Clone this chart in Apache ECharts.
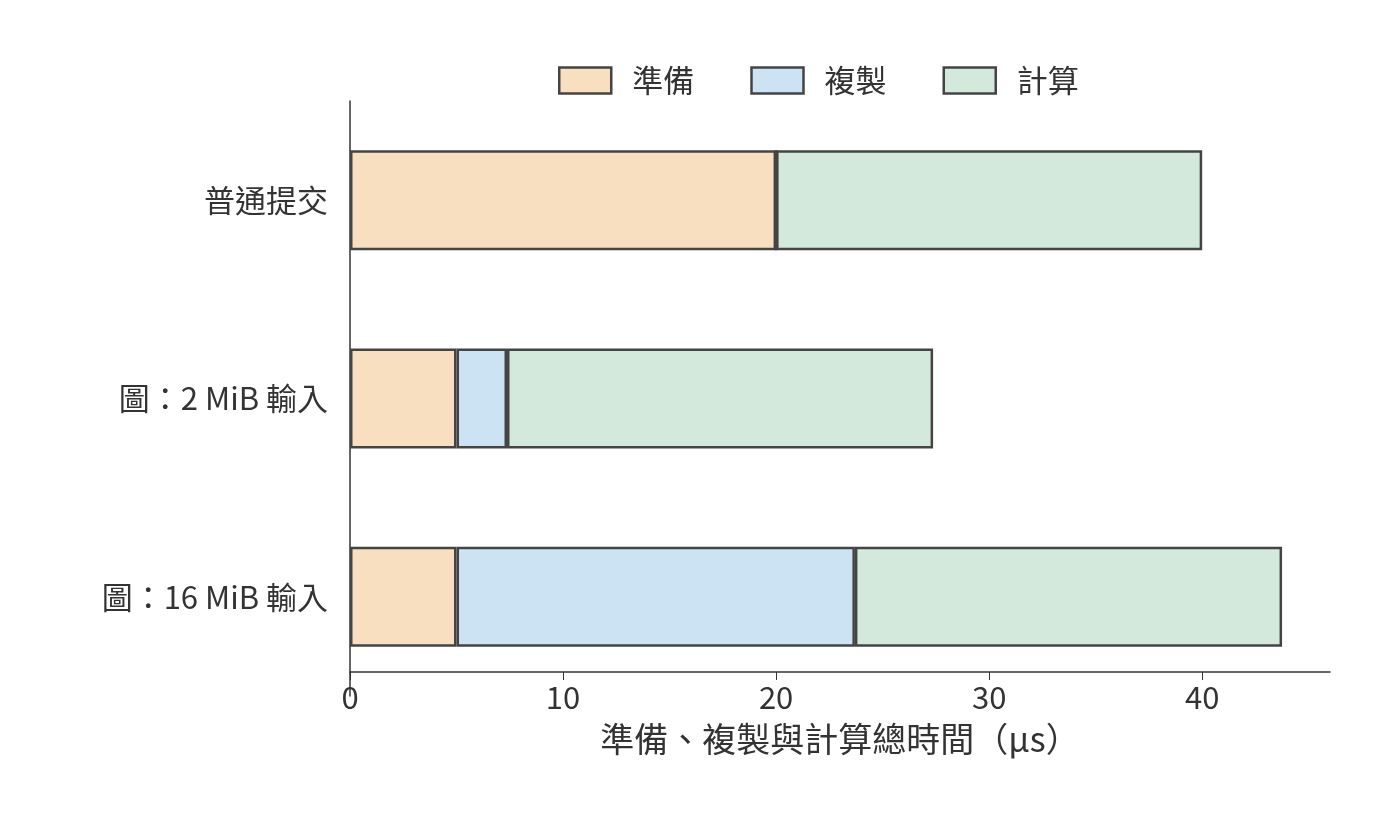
<!DOCTYPE html><html><head><meta charset="utf-8"><script src="https://cdn.jsdelivr.net/npm/echarts@6/dist/echarts.min.js"></script></head><body style="margin:0"><div id="c" style="width:1400px;height:840px"></div><script>
const categories=['圖：16 MiB 輸入','圖：2 MiB 輸入','普通提交'];
const prep=[5,5,20];
const copy=[18.7,2.37,0];
const compute=[20.05,20,20];
const F='"Noto Sans CJK TC"';
const mk=(n,d,c)=>({name:n,type:'bar',stack:'t',data:d,barWidth:100,itemStyle:{color:c,borderColor:'#444',borderWidth:2.5}});
echarts.init(document.getElementById('c')).setOption({
textStyle:{fontFamily:F},
legend:{top:60,left:553,icon:'rect',itemWidth:52,itemHeight:26,itemGap:56,textStyle:{fontSize:31,color:'#333',fontFamily:F,padding:[0,0,0,16]},itemStyle:{borderColor:'#444',borderWidth:2.5},data:['準備','複製','計算']},
grid:{left:350,right:70,top:101,bottom:144},
xAxis:{type:'value',min:0,max:46,interval:10,offset:-24,axisLine:{show:true,lineStyle:{color:'#333',width:1.5}},axisTick:{show:true,length:8,lineStyle:{color:'#333'}},splitLine:{show:false},axisLabel:{fontSize:31,color:'#333',showMaxLabel:false,margin:10},name:'準備、複製與計算總時間（µs）',nameLocation:'middle',nameGap:50,nameTextStyle:{fontSize:34,color:'#333',fontFamily:F}},
yAxis:{type:'category',data:categories,axisLine:{lineStyle:{color:'#333',width:1.5}},axisTick:{length:8,alignWithLabel:true,lineStyle:{color:'#333'}},axisLabel:{fontSize:31,color:'#333',margin:22}},
series:[mk('準備',prep,'#f8dfc0'),mk('複製',copy,'#cce3f3'),mk('計算',compute,'#d2e9dc')]
});
</script></body></html>
